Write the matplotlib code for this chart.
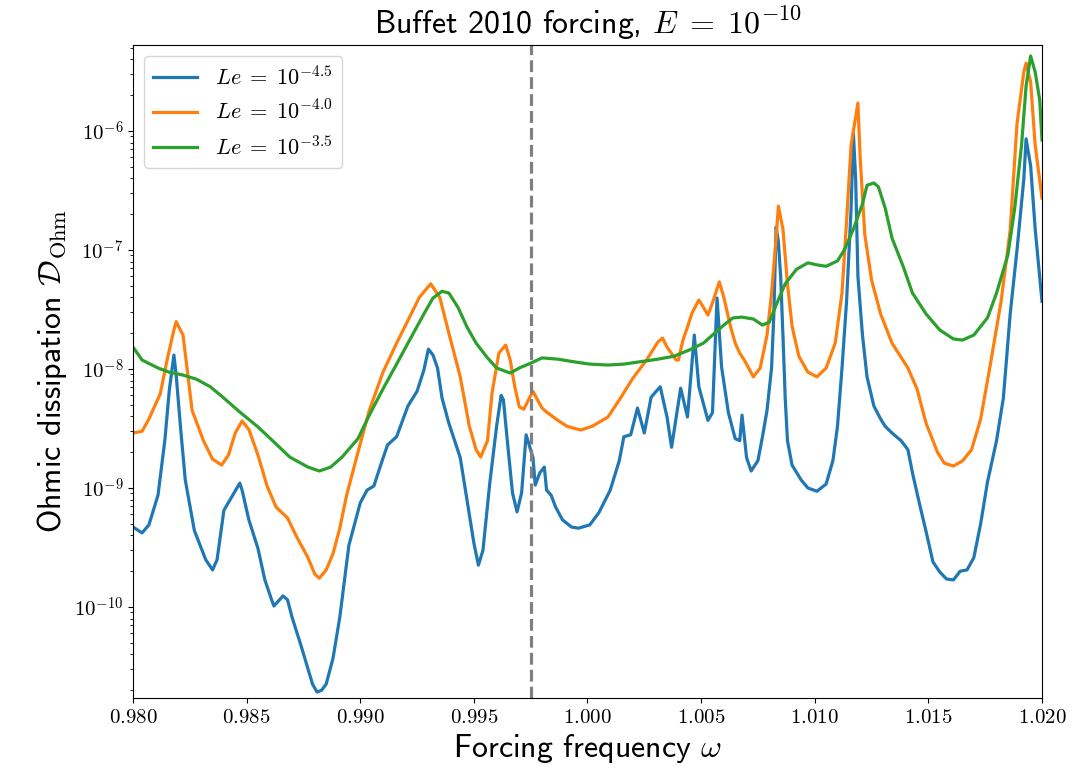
import math

import matplotlib
matplotlib.use("Agg")
import matplotlib.pyplot as plt
from matplotlib.ticker import FuncFormatter, FixedLocator

plt.rcParams["font.family"] = ["cmss10", "DejaVu Sans"]
plt.rcParams["mathtext.fontset"] = "cm"
plt.rcParams["axes.unicode_minus"] = False

BLUE = "#1f77b4"
ORANGE = "#ff7f0e"
GREEN = "#2ca02c"

# Le = 10^-4.5
omega_a = [0.9800, 0.9804, 0.9807, 0.9811, 0.9814, 0.9816, 0.9818, 0.9819, 0.9821, 0.9823,
           0.9827, 0.9832, 0.9835, 0.9837, 0.9840, 0.9847, 0.9848, 0.9851, 0.9855, 0.9858,
           0.9861, 0.9862, 0.9866, 0.9868, 0.9870, 0.9874, 0.9879, 0.9881, 0.9883, 0.9885,
           0.9888, 0.9891, 0.9895, 0.9898, 0.9900, 0.9903, 0.9906, 0.9909, 0.9912, 0.9916,
           0.9921, 0.9925, 0.9928, 0.9930, 0.9932, 0.9934, 0.9936, 0.9939, 0.9944, 0.9947,
           0.9950, 0.9952, 0.9954, 0.9957, 0.9960, 0.9962, 0.9963, 0.9965, 0.9967, 0.9969,
           0.9971, 0.9973, 0.9976, 0.9977, 0.9979, 0.9981, 0.9982, 0.9984, 0.9986, 0.9989,
           0.9993, 0.9996, 1.0001, 1.0005, 1.0010, 1.0014, 1.0016, 1.0019, 1.0022, 1.0025,
           1.0028, 1.0032, 1.0035, 1.0037, 1.0041, 1.0044, 1.0047, 1.0049, 1.0053, 1.0055,
           1.0057, 1.0059, 1.0062, 1.0065, 1.0067, 1.0068, 1.0070, 1.0072, 1.0075, 1.0077,
           1.0079, 1.0081, 1.0082, 1.0083, 1.0084, 1.0085, 1.0086, 1.0087, 1.0088, 1.0090,
           1.0094, 1.0097, 1.0101, 1.0105, 1.0108, 1.0110, 1.0112, 1.0114, 1.0116, 1.0117,
           1.0118, 1.0119, 1.0121, 1.0123, 1.0126, 1.0129, 1.0131, 1.0134, 1.0138, 1.0141,
           1.0143, 1.0146, 1.0149, 1.0152, 1.0155, 1.0158, 1.0161, 1.0164, 1.0167, 1.0170,
           1.0173, 1.0176, 1.0180, 1.0183, 1.0186, 1.0189, 1.0192, 1.0193, 1.0195, 1.0197,
           1.0200]
ohm_a = [4.7e-10, 4.2e-10, 4.9e-10, 8.7e-10, 2.5e-9, 6.7e-9, 1.31e-8, 8.9e-9, 3.1e-9, 1.17e-9,
         4.4e-10, 2.5e-10, 2.05e-10, 2.5e-10, 6.5e-10, 1.1e-9, 9.6e-10, 5.4e-10, 3.1e-10, 1.7e-10,
         1.15e-10, 1.02e-10, 1.24e-10, 1.15e-10, 8.2e-11, 4.7e-11, 2.25e-11, 1.93e-11, 2.0e-11, 2.25e-11,
         3.7e-11, 8.2e-11, 3.3e-10, 5.4e-10, 7.5e-10, 9.6e-10, 1.04e-9, 1.56e-9, 2.3e-9, 2.7e-9,
         4.9e-9, 6.5e-9, 9.8e-9, 1.47e-8, 1.31e-8, 1.02e-8, 5.7e-9, 3.5e-9, 1.8e-9, 7.9e-10,
         3.45e-10, 2.25e-10, 3.0e-10, 1.1e-9, 3.3e-9, 6.0e-9, 5.5e-9, 2.2e-9, 9.1e-10, 6.3e-10,
         9.1e-10, 2.8e-9, 1.8e-9, 1.06e-9, 1.34e-9, 1.5e-9, 9.6e-10, 8.7e-10, 6.9e-10, 5.4e-10,
         4.7e-10, 4.6e-10, 4.9e-10, 6.2e-10, 9.6e-10, 1.7e-9, 2.7e-9, 2.8e-9, 4.7e-9, 2.9e-9,
         5.8e-9, 7.1e-9, 3.95e-9, 2.2e-9, 6.9e-9, 3.95e-9, 1.93e-8, 7.1e-9, 3.7e-9, 4.3e-9,
         3.95e-8, 1.04e-8, 4.3e-9, 2.6e-9, 2.5e-9, 4.1e-9, 1.8e-9, 1.39e-9, 1.7e-9, 2.7e-9,
         4.5e-9, 1.02e-8, 2.9e-8, 1.56e-7, 1.17e-7, 6.0e-8, 1.93e-8, 5.7e-9, 2.5e-9, 1.56e-9,
         1.17e-9, 1.0e-9, 9.4e-10, 1.08e-9, 1.7e-9, 3.3e-9, 1.02e-8, 3.7e-8, 2.25e-7, 9.6e-7,
         3.95e-7, 6.0e-8, 1.93e-8, 8.6e-9, 4.9e-9, 3.8e-9, 3.3e-9, 2.9e-9, 2.5e-9, 2.1e-9,
         1.34e-9, 7.5e-10, 4.3e-10, 2.4e-10, 1.97e-10, 1.72e-10, 1.69e-10, 2.0e-10, 2.05e-10, 2.6e-10,
         5.0e-10, 1.12e-9, 2.5e-9, 5.7e-9, 2.9e-8, 1.0e-7, 3.95e-7, 8.6e-7, 5.1e-7, 1.5e-7,
         3.7e-8]

# Le = 10^-4.0
omega_b = [0.9800, 0.9804, 0.9807, 0.9812, 0.9815, 0.9818, 0.9819, 0.9822, 0.9824, 0.9826,
           0.9831, 0.9835, 0.9839, 0.9842, 0.9845, 0.9848, 0.9851, 0.9855, 0.9859, 0.9863,
           0.9868, 0.9872, 0.9877, 0.9880, 0.9882, 0.9885, 0.9888, 0.9891, 0.9894, 0.9899,
           0.9904, 0.9910, 0.9916, 0.9922, 0.9926, 0.9931, 0.9935, 0.9939, 0.9944, 0.9948,
           0.9951, 0.9953, 0.9956, 0.9958, 0.9961, 0.9964, 0.9966, 0.9968, 0.9970, 0.9972,
           0.9974, 0.9976, 0.9978, 0.9980, 0.9982, 0.9987, 0.9991, 0.9997, 1.0002, 1.0009,
           1.0014, 1.0020, 1.0026, 1.0031, 1.0033, 1.0035, 1.0039, 1.0040, 1.0042, 1.0044,
           1.0046, 1.0049, 1.0051, 1.0053, 1.0055, 1.0058, 1.0060, 1.0063, 1.0065, 1.0067,
           1.0069, 1.0073, 1.0076, 1.0079, 1.0081, 1.0083, 1.0084, 1.0086, 1.0088, 1.0090,
           1.0093, 1.0097, 1.0101, 1.0105, 1.0109, 1.0112, 1.0114, 1.0116, 1.0119, 1.0120,
           1.0122, 1.0125, 1.0129, 1.0134, 1.0141, 1.0145, 1.0149, 1.0154, 1.0157, 1.0161,
           1.0165, 1.0169, 1.0173, 1.0177, 1.0182, 1.0186, 1.0189, 1.0192, 1.0193, 1.0195,
           1.0197, 1.0200]
ohm_b = [2.9e-9, 3.0e-9, 3.8e-9, 6.2e-9, 1.19e-8, 2.13e-8, 2.5e-8, 1.93e-8, 9.4e-9, 4.5e-9,
         2.5e-9, 1.75e-9, 1.56e-9, 1.89e-9, 2.9e-9, 3.66e-9, 3.1e-9, 1.89e-9, 1.04e-9, 6.9e-10,
         5.6e-10, 3.9e-10, 2.6e-10, 1.89e-10, 1.75e-10, 2.05e-10, 2.8e-10, 4.6e-10, 8.7e-10, 2.0e-9,
         4.5e-9, 9.4e-9, 1.65e-8, 2.8e-8, 4.0e-8, 5.2e-8, 4.0e-8, 2.0e-8, 8.6e-9, 3.3e-9,
         2.1e-9, 1.82e-9, 2.5e-9, 6.3e-9, 1.36e-8, 1.59e-8, 1.19e-8, 7.1e-9, 4.8e-9, 4.6e-9,
         5.5e-9, 6.5e-9, 5.5e-9, 4.7e-9, 4.35e-9, 3.7e-9, 3.3e-9, 3.07e-9, 3.3e-9, 3.95e-9,
         5.5e-9, 8.4e-9, 1.19e-8, 1.69e-8, 1.82e-8, 1.53e-8, 1.19e-8, 1.19e-8, 1.75e-8, 2.25e-8,
         2.96e-8, 3.8e-8, 3.3e-8, 2.84e-8, 3.6e-8, 5.4e-8, 4.0e-8, 2.25e-8, 1.65e-8, 1.36e-8,
         1.19e-8, 8.6e-9, 1.02e-8, 1.93e-8, 4.35e-8, 1.26e-7, 2.34e-7, 1.5e-7, 5.2e-8, 2.3e-8,
         1.28e-8, 9.4e-9, 8.6e-9, 1.02e-8, 1.65e-8, 4.35e-8, 1.75e-7, 7.6e-7, 1.72e-6, 5.9e-7,
         1.36e-7, 5.6e-8, 2.9e-8, 1.65e-8, 1.02e-8, 6.8e-9, 3.5e-9, 2.0e-9, 1.62e-9, 1.53e-9,
         1.69e-9, 2.1e-9, 3.8e-9, 1.02e-8, 3.7e-8, 1.47e-7, 1.15e-6, 3.13e-6, 3.72e-6, 2.58e-6,
         7.6e-7, 2.73e-7]

# Le = 10^-3.5
omega_c = [0.9800, 0.9804, 0.9811, 0.9816, 0.9822, 0.9828, 0.9834, 0.9840, 0.9847, 0.9855,
           0.9862, 0.9869, 0.9877, 0.9882, 0.9887, 0.9892, 0.9899, 0.9904, 0.9910, 0.9916,
           0.9922, 0.9928, 0.9932, 0.9936, 0.9939, 0.9943, 0.9947, 0.9951, 0.9956, 0.9960,
           0.9966, 0.9970, 0.9975, 0.9980, 0.9987, 0.9994, 1.0001, 1.0009, 1.0016, 1.0023,
           1.0031, 1.0038, 1.0045, 1.0051, 1.0055, 1.0060, 1.0064, 1.0068, 1.0073, 1.0077,
           1.0080, 1.0083, 1.0087, 1.0092, 1.0097, 1.0101, 1.0105, 1.0110, 1.0113, 1.0117,
           1.0121, 1.0123, 1.0126, 1.0128, 1.0131, 1.0134, 1.0139, 1.0143, 1.0149, 1.0155,
           1.0161, 1.0165, 1.0170, 1.0176, 1.0180, 1.0185, 1.0188, 1.0191, 1.0193, 1.0195,
           1.0197, 1.0199, 1.0200]
ohm_c = [1.53e-8, 1.19e-8, 1.02e-8, 9.4e-9, 8.9e-9, 8.2e-9, 7.1e-9, 5.7e-9, 4.35e-9, 3.26e-9,
         2.44e-9, 1.82e-9, 1.5e-9, 1.39e-9, 1.5e-9, 1.82e-9, 2.6e-9, 4.1e-9, 6.8e-9, 1.1e-8,
         1.79e-8, 2.9e-8, 3.95e-8, 4.5e-8, 4.35e-8, 3.3e-8, 2.25e-8, 1.65e-8, 1.24e-8, 1.02e-8,
         9.25e-9, 1.02e-8, 1.12e-8, 1.24e-8, 1.21e-8, 1.15e-8, 1.1e-8, 1.08e-8, 1.1e-8, 1.15e-8,
         1.21e-8, 1.28e-8, 1.45e-8, 1.65e-8, 1.93e-8, 2.34e-8, 2.69e-8, 2.73e-8, 2.63e-8, 2.34e-8,
         2.48e-8, 3.45e-8, 5.2e-8, 6.9e-8, 7.8e-8, 7.5e-8, 7.3e-8, 8.1e-8, 1.0e-7, 1.5e-7,
         2.44e-7, 3.5e-7, 3.66e-7, 3.4e-7, 2.25e-7, 1.26e-7, 7.2e-8, 4.35e-8, 2.9e-8, 2.13e-8,
         1.79e-8, 1.75e-8, 1.93e-8, 2.69e-8, 4.35e-8, 9.1e-8, 2.25e-7, 7.6e-7, 2.39e-6, 4.27e-6,
         3.13e-6, 1.82e-6, 8.4e-7]

series = [
    (omega_a, ohm_a, r"$Le\;=\;10^{-4.5}$", BLUE),
    (omega_b, ohm_b, r"$Le\;=\;10^{-4.0}$", ORANGE),
    (omega_c, ohm_c, r"$Le\;=\;10^{-3.5}$", GREEN),
]
omega_marker = 0.9975
x_ticks = [0.980, 0.985, 0.990, 0.995, 1.000, 1.005, 1.010, 1.015, 1.020]
y_ticks = [1e-10, 1e-9, 1e-8, 1e-7, 1e-6]


def log_label(v, pos):
    return r"$10^{%d}$" % int(round(math.log10(v)))


fig = plt.figure(figsize=(10.76, 7.8), dpi=100)
ax = fig.add_axes([0.1236, 0.1051, 0.8448, 0.8372])

for om, vals, label, color in series:
    ax.plot(om, vals, color=color, lw=2.3, label=label)
ax.axvline(omega_marker, color="0.5", ls="--", lw=2.3)

ax.set_yscale("log")
ax.set_xlim(0.98, 1.02)
ax.set_ylim(1.72e-11, 5.28e-6)
ax.xaxis.set_major_locator(FixedLocator(x_ticks))
ax.xaxis.set_major_formatter(FuncFormatter(lambda v, p: r"$%.3f$" % v))
ax.yaxis.set_major_locator(FixedLocator(y_ticks))
ax.yaxis.set_major_formatter(FuncFormatter(log_label))
ax.tick_params(axis="both", labelsize=15)

ax.set_xlabel(r"Forcing frequency $\omega$", fontsize=23)
ax.set_ylabel(r"Ohmic dissipation $\mathcal{D}_\mathrm{Ohm}$", fontsize=23)
ax.set_title(r"Buffet 2010 forcing, $E\;=\;10^{-10}$", fontsize=23, pad=8)
ax.legend(loc="upper left", fontsize=16)

fig.savefig("out.png", dpi=100)
